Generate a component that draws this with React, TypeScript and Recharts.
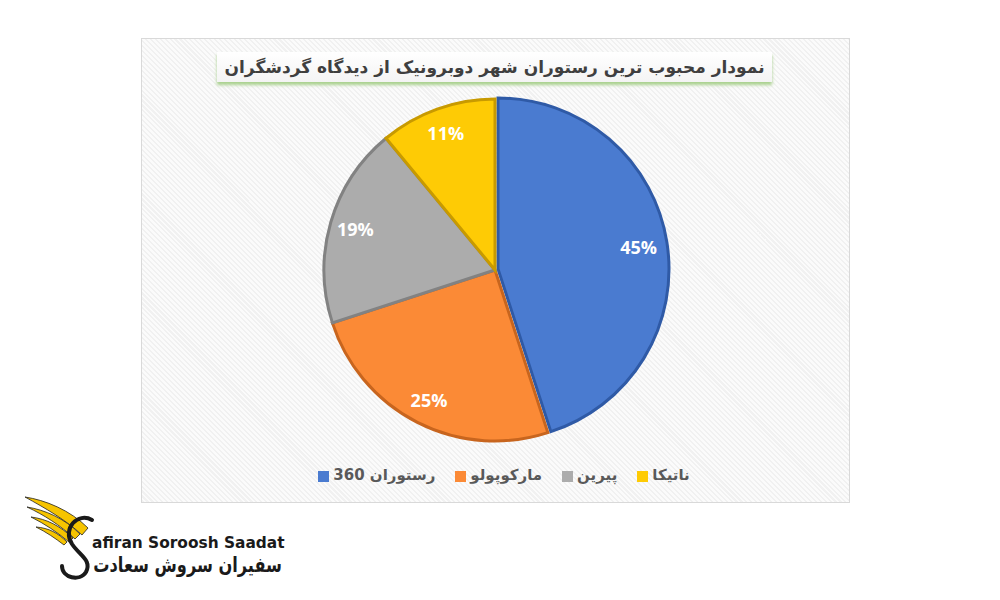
import React from "react";
import { PieChart, Pie, Cell, Legend } from "recharts";

const names = ["رستوران 360", "مارکوپولو", "پیرین", "ناتیکا"];
const values = [45, 25, 19, 11];
const fills = ["#4a7bd0", "#fb8a36", "#acacac", "#fecb05"];
const strokes = ["#2f5aa6", "#c8651e", "#828282", "#c89a00"];
const titleText = "نمودار محبوب ترین رستوران شهر دوبرونیک از دیدگاه گردشگران";

const data = names.map((n, i) => ({ name: n, value: values[i] }));

const RAD = Math.PI / 180;
const renderLabel = (p: any) => {
  const r = p.outerRadius * 0.85;
  const x = p.cx + r * Math.cos(-p.midAngle * RAD);
  const y = p.cy + r * Math.sin(-p.midAngle * RAD);
  return (
    <text x={x} y={y} fill="#ffffff" textAnchor="middle" dominantBaseline="central"
      style={{ fontFamily: "'Open Sans', 'DejaVu Sans', sans-serif", fontWeight: 700, fontSize: 18 }}>
      {`${p.value}%`}
    </text>
  );
};

export default function App() {
  return (
    <div style={{ position: "absolute", left: 0, top: 0, width: 1000, height: 600, background: "#ffffff", overflow: "hidden" }}>
      <div style={{
        position: "absolute", left: 141, top: 38, width: 707, height: 463,
        border: "1px solid #d9d9d9",
        background: "repeating-linear-gradient(45deg, #f1f1f1 0px, #f1f1f1 1.5px, #fbfbfb 1.5px, #fbfbfb 3.5px)",
      }} />
      <div style={{
        position: "absolute", left: 217, top: 52, width: 555, height: 30,
        background: "linear-gradient(#ffffff, #f4f4f4)",
        boxShadow: "0 3px 3px #a9d18e",
        display: "flex", alignItems: "center", justifyContent: "center",
        direction: "rtl", fontFamily: "'DejaVu Sans', sans-serif", fontWeight: 700,
        fontSize: 17, color: "#3f3f3f", whiteSpace: "nowrap",
      }}>{titleText}</div>
      <div style={{ position: "absolute", left: 0, top: 0 }}>
        <PieChart width={1000} height={600} margin={{ top: 0, right: 0, bottom: 0, left: 0 }}>
          <Pie data={data} dataKey="value" nameKey="name" cx={495} cy={270} outerRadius={171}
            startAngle={90} endAngle={-270} isAnimationActive={false}
            label={renderLabel} labelLine={false} strokeWidth={3}>
            {data.map((d, i) => (
              <Cell key={d.name} fill={fills[i]} stroke={strokes[i]}
                style={i === 0 ? { transform: "translate(3px, -1px)" } : undefined} />
            ))}
          </Pie>
          <Legend verticalAlign="bottom" align="center" iconType="square" iconSize={11}
            itemSorter={(item: any) => names.indexOf(item.value)}
            wrapperStyle={{ top: 466, bottom: "auto", left: 14, width: 1000 }}
            formatter={(value: any) => (
              <span style={{ color: "#595959", fontFamily: "'DejaVu Sans', sans-serif", fontWeight: 700, fontSize: 15, marginRight: 10 }}>{value}</span>
            )} />
        </PieChart>
      </div>
      <svg style={{ position: "absolute", left: 0, top: 0 }} width={400} height={600}>
        <g fill="#f6c400" stroke="#222" strokeWidth={0.8}>
          <path d="M25,497 C45,500 70,510 88,528 L82,535 C66,520 45,508 25,497 Z" />
          <path d="M27,507 C45,510 64,518 80,534 L75,539 C60,525 44,515 27,507 Z" />
          <path d="M31,517 C47,519 60,526 73,538 L69,542 C57,532 45,524 31,517 Z" />
          <path d="M36,527 C49,528 58,533 67,542 L64,545 C55,538 46,532 36,527 Z" />
        </g>
        <path d="M92,520 C78,512 62,528 72,544 C80,556 92,560 86,572 C80,582 62,578 62,566"
          fill="none" stroke="#1a1a1a" strokeWidth={4} strokeLinecap="round" />
        <text x={92} y={548} fill="#1a1a1a"
          style={{ fontFamily: "'DejaVu Sans', sans-serif", fontWeight: 700, fontSize: 15.4 }}>afiran Soroosh Saadat</text>
        <g transform="translate(282,572) scale(0.77,1)">
          <text x={0} y={0} textAnchor="end" fill="#1a1a1a"
            style={{ fontFamily: "'DejaVu Sans', sans-serif", fontWeight: 700, fontSize: 21 }}>سفیران سروش سعادت</text>
        </g>
      </svg>
    </div>
  );
}
